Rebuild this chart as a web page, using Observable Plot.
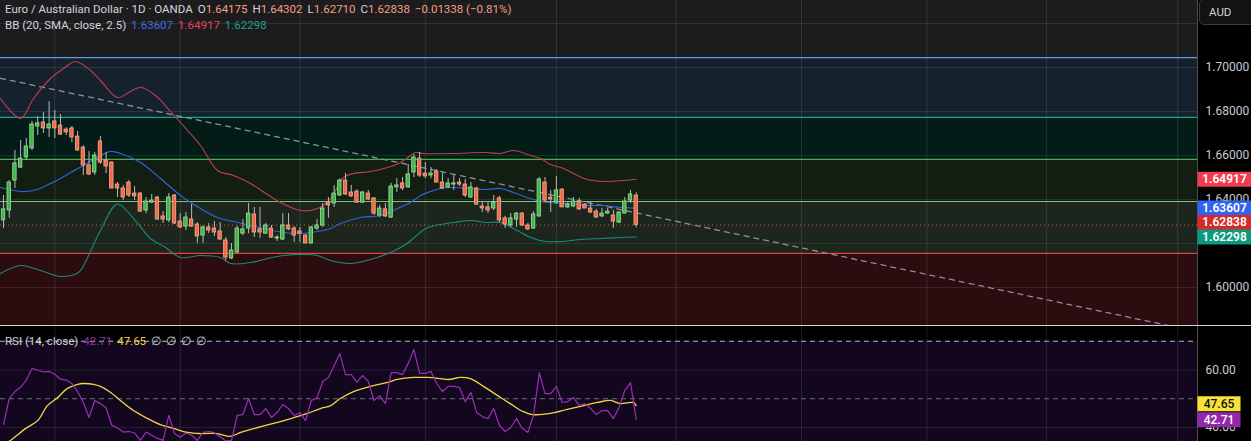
<!DOCTYPE html>
<html><head><meta charset="utf-8">
<script src="https://cdn.jsdelivr.net/npm/d3@7"></script>
<script src="https://cdn.jsdelivr.net/npm/@observablehq/plot@0.6"></script>
<style>
html,body{margin:0;padding:0;background:#000;}
#wrap{position:relative;width:1251px;height:441px;overflow:hidden;font-family:Roboto,"Noto Sans",sans-serif;}
#main{position:absolute;left:0;top:0;}
#rsi{position:absolute;left:0;top:326px;}
#sep{position:absolute;left:0;top:325px;width:1251px;height:1px;background:#d4d4d4;}
.row{position:absolute;left:5px;font-size:11.5px;line-height:14px;color:#d1d4dc;white-space:nowrap;}
.row span{margin-left:5px;}
.row span:first-child{margin-left:0;}
#aud{position:absolute;left:1199px;top:-1px;width:60px;height:24px;border:1px solid #3c3c3c;border-radius:5px;background:#121212;color:#d1d4dc;font-size:11.5px;line-height:24px;text-indent:9px;}
</style></head>
<body><div id="wrap">
<div id="main"></div><div id="sep"></div><div id="rsi"></div>
<div id="hdr"></div>
<div id="aud">AUD</div>
</div>
<script>
// ---------- data ----------
const xDomain = [-0.53, 209.47];           // bar index span of the visible area
const priceDomain = [1.582727, 1.730455];
const rsiDomain = [35.13, 75.13];

const opens = [1.6305,1.6350,1.6486,1.6545,1.6591,1.6632,1.6732,1.6750,1.6723,1.6755,
1.6736,1.6718,1.6723,1.6686,1.6636,1.6555,1.6523,1.6664,1.6577,1.6568,
1.6468,1.6450,1.6477,1.6427,1.6427,1.6350,1.6386,1.6409,1.6323,1.6305,
1.6418,1.6300,1.6277,1.6309,1.6286,1.6236,1.6273,1.6268,1.6255,1.6214,
1.6132,1.6159,1.6245,1.6268,1.6332,1.6264,1.6245,1.6268,1.6223,1.6218,
1.6282,1.6268,1.6255,1.6236,1.6200,1.6268,1.6282,1.6386,1.6382,1.6418,
1.6486,1.6432,1.6436,1.6386,1.6427,1.6405,1.6327,1.6355,1.6318,1.6455,
1.6473,1.6455,1.6523,1.6586,1.6518,1.6509,1.6527,1.6477,1.6455,1.6468,
1.6477,1.6468,1.6409,1.6450,1.6368,1.6364,1.6359,1.6405,1.6314,1.6282,
1.6309,1.6336,1.6282,1.6268,1.6323,1.6477,1.6409,1.6386,1.6445,1.6364,
1.6368,1.6391,1.6377,1.6359,1.6345,1.6323,1.6336,1.6327,1.6295,1.6336,
1.6395,1.64175];
const highs = [1.6418,1.6486,1.6623,1.6668,1.6677,1.6755,1.6777,1.6795,1.6845,1.6805,
1.6786,1.6727,1.6732,1.6709,1.6645,1.6618,1.6614,1.6686,1.6614,1.6570,
1.6477,1.6464,1.6486,1.6459,1.6432,1.6409,1.6423,1.6414,1.6345,1.6427,
1.6423,1.6336,1.6341,1.6377,1.6295,1.6282,1.6291,1.6300,1.6295,1.6227,
1.6200,1.6277,1.6309,1.6382,1.6364,1.6364,1.6291,1.6282,1.6236,1.6336,
1.6336,1.6277,1.6273,1.6241,1.6277,1.6309,1.6382,1.6409,1.6464,1.6495,
1.6518,1.6464,1.6445,1.6436,1.6441,1.6409,1.6373,1.6382,1.6473,1.6495,
1.6500,1.6559,1.6605,1.6614,1.6568,1.6545,1.6536,1.6518,1.6495,1.6509,
1.6495,1.6491,1.6477,1.6455,1.6391,1.6386,1.6418,1.6414,1.6323,1.6336,
1.6341,1.6341,1.6291,1.6345,1.6500,1.6500,1.6441,1.6505,1.6450,1.6386,
1.6409,1.6405,1.6382,1.6386,1.6355,1.6359,1.6359,1.6350,1.6345,1.6409,
1.6441,1.64302];
const lows = [1.6268,1.6314,1.6450,1.6541,1.6577,1.6623,1.6691,1.6700,1.6682,1.6677,
1.6691,1.6691,1.6659,1.6618,1.6509,1.6509,1.6509,1.6559,1.6518,1.6448,
1.6409,1.6395,1.6409,1.6395,1.6341,1.6336,1.6382,1.6305,1.6291,1.6295,
1.6286,1.6268,1.6259,1.6273,1.6200,1.6200,1.6245,1.6232,1.6214,1.6123,
1.6127,1.6155,1.6236,1.6245,1.6227,1.6223,1.6241,1.6223,1.6209,1.6214,
1.6259,1.6205,1.6205,1.6200,1.6198,1.6259,1.6273,1.6314,1.6364,1.6414,
1.6418,1.6409,1.6382,1.6382,1.6395,1.6327,1.6318,1.6318,1.6314,1.6432,
1.6441,1.6450,1.6500,1.6500,1.6495,1.6495,1.6477,1.6445,1.6450,1.6441,
1.6459,1.6409,1.6405,1.6373,1.6341,1.6336,1.6350,1.6295,1.6268,1.6273,
1.6273,1.6277,1.6259,1.6264,1.6318,1.6386,1.6341,1.6377,1.6364,1.6359,
1.6364,1.6350,1.6359,1.6336,1.6314,1.6318,1.6332,1.6268,1.6291,1.6336,
1.6382,1.62710];
const closes = [1.6355,1.6477,1.6564,1.6586,1.6641,1.6741,1.6746,1.6723,1.6741,1.6723,
1.6695,1.6705,1.6682,1.6623,1.6555,1.6514,1.6600,1.6568,1.6550,1.6450,
1.6450,1.6409,1.6418,1.6414,1.6345,1.6391,1.6395,1.6309,1.6309,1.6409,
1.6291,1.6273,1.6318,1.6277,1.6232,1.6273,1.6259,1.6250,1.6218,1.6136,
1.6168,1.6268,1.6264,1.6336,1.6250,1.6250,1.6282,1.6227,1.6227,1.6282,
1.6264,1.6236,1.6245,1.6200,1.6273,1.6282,1.6359,1.6373,1.6427,1.6486,
1.6423,1.6414,1.6386,1.6432,1.6400,1.6336,1.6359,1.6323,1.6459,1.6464,
1.6450,1.6514,1.6591,1.6509,1.6505,1.6518,1.6477,1.6450,1.6473,1.6473,
1.6468,1.6418,1.6455,1.6377,1.6359,1.6350,1.6386,1.6305,1.6286,1.6314,
1.6336,1.6282,1.6264,1.6332,1.6491,1.6395,1.6400,1.6441,1.6364,1.6377,
1.6391,1.6355,1.6359,1.6341,1.6318,1.6336,1.6345,1.6300,1.6341,1.6391,
1.6423,1.62838];

// Bollinger Bands (20, SMA, close, 2.5) read at sample bars
const bbUpperBars = [-0.53,2.98,5.26,8.25,10.53,12.63,15.26,17.02,20,22.28,24.04,26.67,29.3,31.05,34.56,37.54,40.35,43.33,46.32,48.6,52.11,55.09,57.37,59.65,61.4,64.39,67.37,69.65,71.4,72.28,73.68,78.95,84.56,87.19,89.47,92.46,94.21,95.96,98.25,100.7,102.46,105.26,108.77,111];
const bbUpper = [1.68591,1.67682,1.68591,1.695,1.69955,1.70273,1.69864,1.69409,1.68636,1.68909,1.69091,1.68727,1.68,1.675,1.66455,1.65318,1.65091,1.64727,1.64227,1.63864,1.635,1.63591,1.64045,1.65,1.65182,1.65273,1.65455,1.65682,1.66,1.66136,1.66091,1.66091,1.66136,1.66091,1.66227,1.66,1.65864,1.65591,1.65409,1.65091,1.64909,1.64818,1.64864,1.64917];
const bbBasisBars = [-0.53,2.98,5.26,8.25,10,11.75,14.04,17.02,18.77,20.53,24.04,27.54,31.05,34.56,37.54,40.35,43.33,46.32,49.12,52.11,55.09,57.37,59.12,62.63,66.14,69.12,71.4,73.16,74.91,76.67,78.95,81.93,84.56,87.19,89.47,92.46,95.44,98.95,102.46,105.26,108.25,111];
const bbBasis = [1.64545,1.64364,1.64409,1.64727,1.64955,1.65227,1.65545,1.66,1.66182,1.66091,1.65682,1.64955,1.64182,1.63591,1.63182,1.63,1.62818,1.62636,1.625,1.62455,1.62545,1.62682,1.62909,1.63182,1.63273,1.63591,1.63864,1.64182,1.64364,1.645,1.64545,1.645,1.64455,1.645,1.64318,1.64045,1.63864,1.63818,1.63727,1.63727,1.63636,1.63607];
const bbLowerBars = [-0.53,2.98,6.49,10,13.16,14.04,17.02,20,22.81,25.79,28.42,31.05,34.56,38.07,39.82,43.33,46.32,49.12,52.11,55.09,57.37,60.88,64.39,67.89,70.53,72.28,74.04,75.79,78.95,81.93,84.56,87.19,89.47,92.46,95.09,97.72,101.23,104.74,108.25,111];
const bbLower = [1.60636,1.61,1.60773,1.605,1.60682,1.61,1.62591,1.63795,1.63136,1.62227,1.61818,1.61364,1.61455,1.61364,1.61091,1.61136,1.61318,1.61455,1.615,1.61455,1.61227,1.61091,1.61273,1.61591,1.61955,1.62318,1.62682,1.62818,1.62955,1.63045,1.62955,1.62955,1.62682,1.62273,1.62091,1.62091,1.62182,1.62227,1.62273,1.62298];

// Fibonacci retracement drawing (levels 1 .. 0, top to bottom)
const fibPrices = [1.7392,1.7045,1.6773,1.6582,1.6391,1.6155,1.5772];
const fibFills = ["#1c1c1f","#16212e","#041c18","#131e12","#1c261c","#2d0c0f"];
const fibLineColors = ["#787b86","#5e9fd8","#1fa38b","#4caf50","#7fc582","#e0434a","#787b86"];

// dashed trend line drawing
const trendBars = [-0.53, 209.47];
const trendPrices = [1.6951, 1.5799];

// grid / ticks
const gridBars = [9,31,52,74,97,118,140,162,183,206];
const priceGrid = [1.60,1.62,1.64,1.66,1.68,1.70,1.72];
const priceTicks = [1.60,1.64,1.66,1.68,1.70];

// RSI (14, close) and its moving average
const rsiValues = [41,50,52.5,54,56.5,60.5,60,59.3,59.5,58.5,
56.8,56.5,55.3,52.5,48.7,43.5,49.4,48.3,46.8,40.8,
39.8,38.4,38.6,38.1,35.5,38.4,37.3,36.2,35.5,44.2,
37.9,36.6,38,37.3,35.5,38.3,38.6,38.2,36.8,35.3,
35.5,44.2,44.5,50.1,44.5,44.5,46.6,43.5,45.2,48,
46.6,44.2,45.2,42.4,49.4,50.3,56,57.4,61.5,65.7,
58.4,58.4,55.7,58.1,56,49.4,51.1,48.3,59.1,59.1,
58.4,62.3,67.1,58.8,58.8,59.5,55.3,52.5,54.3,54.3,
53.9,49,52.2,45.2,43.8,43.1,46.6,40.7,38.6,40,
43.1,39.7,38.3,44.5,59.1,51.8,51.8,54.3,48.7,49,
50.4,47.6,48.3,46.6,44.5,45.9,45.9,43.1,47,52.9,
55.6,42.71];
const rsiMaBars = [-0.5,1.2,3.9,6,7.7,9.5,11.2,13,14,15.8,17,18.8,20.5,22.8,25.3,27.5,29.8,32.3,34.6,37.5,39.8,41.6,44.6,47.4,50.4,53.3,55.6,57.4,59.1,61.4,64.4,67.4,69.1,71.9,74.4,76.7,78.1,80.2,81.9,84.2,86.7,88.9,91.2,92.8,96,98.9,101.8,104.2,106.5,108.2,110.4,111];
const rsiMa = [33.5,35.5,39.7,42.4,47.6,50.4,53.6,55,55.3,55,54.3,52.2,49.4,45.9,43.1,41,39.7,38.3,37.9,37.9,36.9,38.3,40,41.4,43.1,44.9,46.6,47.6,50.1,52.5,54.3,55.7,56.7,57.4,57.4,57,56.7,57.4,57,54.3,51.1,48.3,45.5,44.5,44.9,46.3,47.6,48.7,49.4,48.3,48.7,47.65];
const rsiGrid = [40, 60];
const rsiBand = [30, 70];

// last-value labels on the right scale
const priceLabelText = ["1.64917","1.63607","1.62838","1.62298"];
const priceLabelValue = [1.64917,1.63607,1.62838,1.62298];
const priceLabelBg = ["#f23b4f","#2f64f0","#d42a2a","#0b9a7e"];
const rsiLabelText = ["47.65","42.71"];
const rsiLabelValue = [47.65,42.71];
const rsiLabelBg = ["#f8e23a","#9428ad"];
const rsiLabelFg = ["#111","#fff"];

// header texts
const headerTitle = "Euro / Australian Dollar · 1D · OANDA";
const headerOHLC = [["O","1.64175"],["H","1.64302"],["L","1.62710"],["C","1.62838"]];
const headerChange = "−0.01338 (−0.81%)";
const bbTitle = "BB (20, SMA, close, 2.5)";
const bbValues = ["1.63607","1.64917","1.62298"];
const bbColors = ["#3d6fe0","#e8414f","#1fa088"];
const rsiTitle = "RSI (14, close)";
const rsiEmpty = ["∅","∅","∅","∅"];

// ---------- helpers ----------
const W = 1251, MR = 54;
const mainH = 325, rsiH = 115;
const pts = (bars, vals) => bars.map((b, i) => ({b, v: vals[i]}));
function dodge(labels, pxPerUnit, gapPx) {
  const s = labels.slice().sort((a, b) => a.value - b.value);
  let prev = null;
  for (const l of s) {
    let pos = l.value;
    if (prev !== null && (pos - prev) * pxPerUnit < gapPx) pos = prev + gapPx / pxPerUnit;
    l.pos = pos; prev = pos;
  }
  return labels;
}
const boxSymbol = (w, h) => ({draw(ctx) {
  ctx.moveTo(-w/2, -h/2); ctx.lineTo(w/2, -h/2); ctx.lineTo(w/2, h/2); ctx.lineTo(-w/2, h/2); ctx.closePath();
}});

const candles = opens.map((o, i) => ({b: i, o, h: highs[i], l: lows[i], c: closes[i]}));
const fibBands = fibFills.map((f, i) => ({hi: fibPrices[i], lo: fibPrices[i+1], fill: f}));
const fibLines = fibPrices.map((p, i) => ({p, color: fibLineColors[i]}));
const priceLabels = dodge(priceLabelText.map((t, i) => ({text: t, value: priceLabelValue[i], bg: priceLabelBg[i]})),
  mainH / (priceDomain[1] - priceDomain[0]), 14.5);
const rsiLabels = dodge(rsiLabelText.map((t, i) => ({text: t, value: rsiLabelValue[i], bg: rsiLabelBg[i], fg: rsiLabelFg[i]})),
  rsiH / (rsiDomain[1] - rsiDomain[0]), 16);

const GREEN = "#41b34b", GREEN_EDGE = "#9fe39d", RED = "#ef6a47", RED_EDGE = "#fbab92";
const font = "Roboto, 'Noto Sans', sans-serif";

// ---------- main pane ----------
const main = Plot.plot({
  width: W, height: mainH,
  marginLeft: 0, marginRight: MR, marginTop: 0, marginBottom: 0,
  style: {background: "transparent", color: "#c9ccd3", fontSize: "12px", fontFamily: font},
  x: {domain: xDomain, axis: null},
  y: {domain: priceDomain},
  color: {type: "identity"},
  marks: [
    Plot.rect(fibBands, {x1: () => xDomain[0], x2: () => xDomain[1], y1: "lo", y2: "hi", fill: "fill", clip: true}),
    Plot.ruleY(priceGrid, {stroke: "#ffffff", strokeOpacity: 0.09, clip: true}),
    Plot.ruleX(gridBars, {stroke: "#ffffff", strokeOpacity: 0.11}),
    Plot.ruleY(fibLines, {y: "p", stroke: "color", strokeWidth: 1.2, clip: true}),
    Plot.line(pts(trendBars, trendPrices), {x: "b", y: "v", stroke: "#8d9099", strokeWidth: 1.3, strokeDasharray: "5,5", clip: true}),
    Plot.ruleY([closes[closes.length - 1]], {stroke: "#e2583c", strokeDasharray: "1,3", strokeWidth: 1}),
    Plot.line(pts(bbUpperBars, bbUpper), {x: "b", y: "v", stroke: "#c23e4c", strokeWidth: 1.1, curve: "catmull-rom", clip: true}),
    Plot.line(pts(bbBasisBars, bbBasis), {x: "b", y: "v", stroke: "#2f63d8", strokeWidth: 1.2, curve: "catmull-rom", clip: true}),
    Plot.line(pts(bbLowerBars, bbLower), {x: "b", y: "v", stroke: "#1c8c78", strokeWidth: 1.1, curve: "catmull-rom", clip: true}),
    Plot.ruleX(candles, {x: "b", y1: "l", y2: "h", stroke: "#b9b9b9", strokeWidth: 1}),
    Plot.rect(candles, {x1: d => d.b - 0.3, x2: d => d.b + 0.3, y1: "o", y2: "c",
      fill: d => d.c >= d.o ? GREEN : RED, stroke: d => d.c >= d.o ? GREEN_EDGE : RED_EDGE, strokeWidth: 0.8}),
    Plot.ruleX([xDomain[1]], {stroke: "#4d4d4d"}),
    Plot.axisY({anchor: "right", ticks: priceTicks, tickSize: 0, tickPadding: 8, tickFormat: d3.format(".5f")}),
    Plot.dot(priceLabels, {y: "pos", frameAnchor: "right", dx: 27, symbol: boxSymbol(54, 15), fill: "bg"}),
    Plot.text(priceLabels, {y: "pos", frameAnchor: "right", dx: 27, text: "text", textAnchor: "middle", fill: "#ffffff", fontSize: 12, fontWeight: 600})
  ]
});
document.getElementById("main").appendChild(main);

// ---------- RSI pane ----------
const rsi = Plot.plot({
  width: W, height: rsiH,
  marginLeft: 0, marginRight: MR, marginTop: 0, marginBottom: 0,
  style: {background: "transparent", color: "#c9ccd3", fontSize: "12px", fontFamily: font},
  x: {domain: xDomain, axis: null},
  y: {domain: rsiDomain},
  color: {type: "identity"},
  marks: [
    Plot.rect([rsiBand], {x1: () => xDomain[0], x2: () => xDomain[1], y1: d => d[0], y2: d => d[1], fill: "#13071f", clip: true}),
    Plot.ruleY(rsiGrid, {stroke: "#ffffff", strokeOpacity: 0.09}),
    Plot.ruleX(gridBars, {stroke: "#ffffff", strokeOpacity: 0.11}),
    Plot.ruleY([rsiBand[1]], {stroke: "#b4b7bf", strokeDasharray: "5,4"}),
    Plot.ruleY([50], {stroke: "#6f7079", strokeDasharray: "5,4"}),
    Plot.line(pts(rsiMaBars, rsiMa), {x: "b", y: "v", stroke: "#f2d641", strokeWidth: 1.3, curve: "catmull-rom", clip: true}),
    Plot.line(rsiValues, {x: (d, i) => i, y: d => d, stroke: "#9a2fb3", strokeWidth: 1.2, clip: true}),
    Plot.ruleX([xDomain[1]], {stroke: "#4d4d4d"}),
    Plot.axisY({anchor: "right", ticks: rsiGrid, tickSize: 0, tickPadding: 8, tickFormat: d3.format(".2f")}),
    Plot.dot(rsiLabels, {y: "pos", frameAnchor: "right", dx: 21.5, symbol: boxSymbol(43, 15), fill: "bg"}),
    Plot.text(rsiLabels, {y: "pos", frameAnchor: "right", dx: 21.5, text: "text", textAnchor: "middle", fill: "fg", fontSize: 12, fontWeight: 500})
  ]
});
document.getElementById("rsi").appendChild(rsi);

// ---------- header overlays (legend rows) ----------
const hdr = document.getElementById("hdr");
function row(top, parts) {
  const d = document.createElement("div");
  d.className = "row"; d.style.top = top + "px";
  d.innerHTML = parts.map(([txt, col]) => `<span${col ? ` style="color:${col}"` : ""}>${txt}</span>`).join("");
  hdr.appendChild(d);
}
const OR = "#f4a07c";
row(2, [[headerTitle], ...headerOHLC.map(([k, v]) => [`${k}<b style="font-weight:400;color:${OR}">${v}</b>`]), [headerChange, OR]]);
row(18, [[bbTitle], ...bbValues.map((v, i) => [v, bbColors[i]])]);
row(334, [[rsiTitle], [rsiLabelText[1], "#8d35a6"], [rsiLabelText[0], "#f2d641"], ...rsiEmpty.map(s => [s, "#c9ccd3"])]);
</script>
</body></html>
